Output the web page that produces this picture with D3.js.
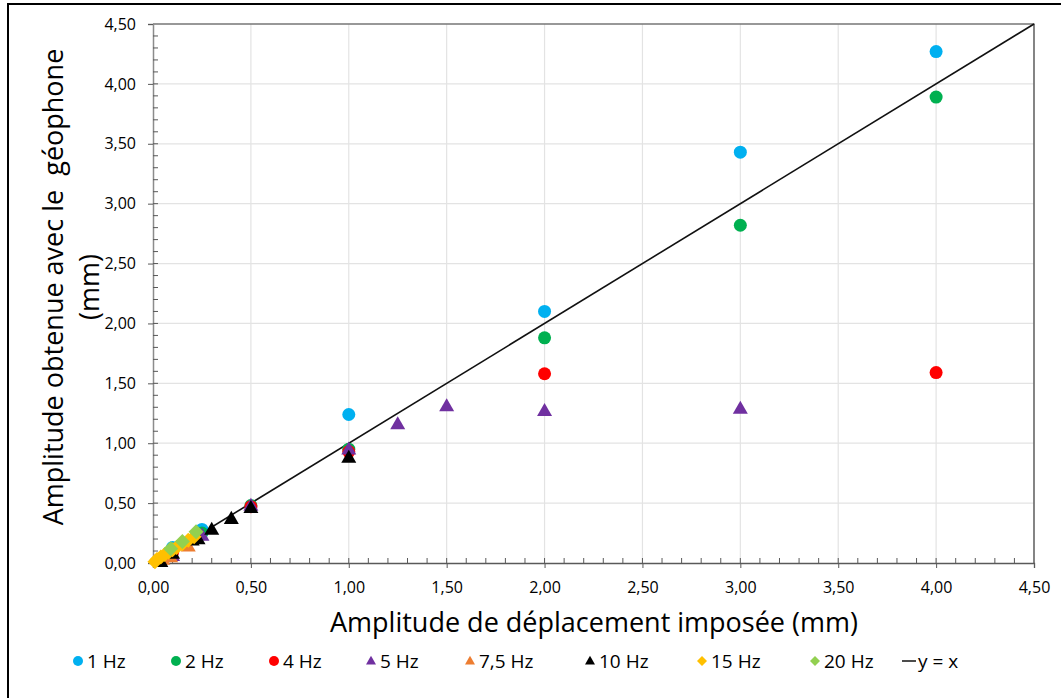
<!DOCTYPE html>
<html>
<head>
<meta charset="utf-8">
<script src="https://cdn.jsdelivr.net/npm/d3@7"></script>
<style>
  body { margin: 0; background: white; }
  text { font-family: "Open Sans", sans-serif; fill: #000; }
</style>
</head>
<body>
<div id="chart"></div>
<script>
// series data: [imposed amplitude, geophone amplitude]
const hz1 = [[0.1, 0.13], [0.25, 0.28], [1, 1.24], [2, 2.1], [3, 3.43], [4, 4.27]];
const hz2 = [[0.1, 0.11], [0.25, 0.25], [0.5, 0.48], [1, 0.95], [2, 1.88], [3, 2.82], [4, 3.89]];
const hz4 = [[0.1, 0.09], [0.5, 0.47], [1, 0.93], [2, 1.58], [4, 1.59]];
const hz5 = [[0.1, 0.06], [0.25, 0.23], [0.5, 0.48], [1, 0.95], [1.25, 1.16], [1.5, 1.31], [2, 1.27], [3, 1.29]];
const hz7_5 = [[0.05, 0.03], [0.09, 0.05], [0.18, 0.14]];
const hz10 = [[0.04, 0.01], [0.1, 0.08], [0.2, 0.19], [0.23, 0.2], [0.3, 0.28], [0.4, 0.37], [0.5, 0.46], [1, 0.88]];
const hz15 = [[0.01, 0.01], [0.02, 0.03], [0.04, 0.05], [0.06, 0.07], [0.08, 0.09], [0.1, 0.11], [0.12, 0.13], [0.15, 0.16], [0.18, 0.19], [0.21, 0.22]];
const hz20 = [[0.09, 0.12], [0.15, 0.18], [0.22, 0.26]];

const seriesNames = ["1 Hz", "2 Hz", "4 Hz", "5 Hz", "7,5 Hz", "10 Hz", "15 Hz", "20 Hz"];
const seriesData = [hz1, hz2, hz4, hz5, hz7_5, hz10, hz15, hz20];
const seriesColors = ["#00B0F0", "#00B050", "#FF0000", "#7030A0", "#ED7D31", "#000000", "#FFC000", "#92D050"];
const seriesShapes = ["circle", "circle", "circle", "triangle", "triangle", "triangle", "diamond", "diamond"];

const majorTicks = [0, 0.5, 1, 1.5, 2, 2.5, 3, 3.5, 4, 4.5];
const minorTicks = d3.range(0, 45).map(function(i) { return i / 10; });

const width = 1061;
const height = 698;
const plot = { left: 153, right: 1034, top: 24, bottom: 563 };

const svg = d3.select("#chart")
    .append("svg")
    .attr("width", width)
    .attr("height", height);

//outer frame
svg.append("rect")
    .attr("x", 8)
    .attr("y", 4)
    .attr("width", 1200)
    .attr("height", 900)
    .attr("fill", "none")
    .attr("stroke", "#000")
    .attr("stroke-width", 2);

const xScale = d3.scaleLinear().domain([0, 4.5]).range([plot.left, plot.right]);
const yScale = d3.scaleLinear().domain([0, 4.5]).range([plot.bottom, plot.top]);

const fmt = function(d) { return d3.format(".2f")(d).replace(".", ","); };

//gridlines
svg.append("g")
    .selectAll("line")
    .data(majorTicks.slice(1))
    .enter()
    .append("line")
    .attr("x1", function(d) { return xScale(d); })
    .attr("x2", function(d) { return xScale(d); })
    .attr("y1", plot.top)
    .attr("y2", plot.bottom)
    .attr("stroke", "#e3e3e3")
    .attr("stroke-width", 1.2);

svg.append("g")
    .selectAll("line")
    .data(majorTicks.slice(1))
    .enter()
    .append("line")
    .attr("x1", plot.left)
    .attr("x2", plot.right)
    .attr("y1", function(d) { return yScale(d); })
    .attr("y2", function(d) { return yScale(d); })
    .attr("stroke", "#e3e3e3")
    .attr("stroke-width", 1.2);

//plot border (top + right)
svg.append("path")
    .attr("d", "M" + plot.left + "," + plot.top + "H" + plot.right + "V" + plot.bottom)
    .attr("fill", "none")
    .attr("stroke", "#404040")
    .attr("stroke-width", 1.2);

//x axis: major ticks outside, minor inside
const xAxis = svg.append("g")
    .attr("transform", "translate(0," + plot.bottom + ")");
xAxis.call(d3.axisBottom(xScale).tickValues(majorTicks).tickFormat(fmt).tickSize(5).tickPadding(14))
    .call(function(g) { g.select(".domain").attr("stroke", "#595959").attr("stroke-width", 1.3); })
    .call(function(g) { g.selectAll(".tick line").attr("stroke", "#595959"); })
    .selectAll("text")
    .style("font-family", "Open Sans, sans-serif")
    .style("font-size", "16px")
    .attr("fill", "#1a1a1a");
xAxis.selectAll(".minor")
    .data(minorTicks)
    .enter()
    .append("line")
    .attr("x1", function(d) { return xScale(d); })
    .attr("x2", function(d) { return xScale(d); })
    .attr("y1", 0)
    .attr("y2", -5)
    .attr("stroke", "#595959");

//y axis
const yAxis = svg.append("g")
    .attr("transform", "translate(" + plot.left + ",0)");
yAxis.call(d3.axisLeft(yScale).tickValues(majorTicks).tickFormat(fmt).tickSize(5).tickPadding(12))
    .call(function(g) { g.select(".domain").attr("stroke", "#8c8c8c").attr("stroke-width", 1.5); })
    .call(function(g) { g.selectAll(".tick line").attr("stroke", "#595959"); })
    .selectAll("text")
    .style("font-family", "Open Sans, sans-serif")
    .style("font-size", "16px")
    .attr("fill", "#1a1a1a");
yAxis.selectAll(".minor")
    .data(minorTicks)
    .enter()
    .append("line")
    .attr("x1", 0)
    .attr("x2", 5)
    .attr("y1", function(d) { return yScale(d); })
    .attr("y2", function(d) { return yScale(d); })
    .attr("stroke", "#595959");

//y = x line
svg.append("line")
    .attr("x1", xScale(0))
    .attr("y1", yScale(0))
    .attr("x2", xScale(4.5))
    .attr("y2", yScale(4.5))
    .attr("stroke", "#111")
    .attr("stroke-width", 1.6);

function shapePath(shape, s) {
    if (shape === "circle") return d3.symbol().type(d3.symbolCircle).size(Math.PI * s * s / 4)();
    if (shape === "triangle") {
        const h = s * 0.87;
        return "M0," + (-h * 0.6) + "L" + (s / 2) + "," + (h * 0.4) + "L" + (-s / 2) + "," + (h * 0.4) + "Z";
    }
    const r = s / 2;
    return "M0," + (-r) + "L" + r + ",0L0," + r + "L" + (-r) + ",0Z";
}

const markerSize = { circle: 13, triangle: 15, diamond: 15 };

//markers
seriesData.forEach(function(data, i) {
    svg.append("g")
        .selectAll("path")
        .data(data)
        .enter()
        .append("path")
        .attr("transform", function(d) { return "translate(" + xScale(d[0]) + "," + yScale(d[1]) + ")"; })
        .attr("d", shapePath(seriesShapes[i], markerSize[seriesShapes[i]]))
        .attr("fill", seriesColors[i]);
});

//axis titles
svg.append("text")
    .attr("x", 594)
    .attr("y", 632)
    .attr("text-anchor", "middle")
    .style("font-size", "27px")
    .text("Amplitude de déplacement imposée (mm)");

const yTitle = svg.append("text")
    .attr("transform", "translate(63,287) rotate(-90)")
    .attr("text-anchor", "middle")
    .style("font-size", "27px");
yTitle.append("tspan").attr("x", 0).attr("y", 0).text("Amplitude obtenue avec le\u00a0\u00a0géophone");
yTitle.append("tspan").attr("x", 0).attr("y", 36).text("(mm)");

//legend
const legendX = [78, 176, 274, 371, 470, 590, 702, 815];
const legendY = 661;
seriesNames.forEach(function(name, i) {
    const g = svg.append("g").attr("transform", "translate(" + legendX[i] + "," + legendY + ")");
    g.append("path")
        .attr("d", shapePath(seriesShapes[i], 10))
        .attr("fill", seriesColors[i]);
    g.append("text")
        .attr("x", 9)
        .attr("y", 7)
        .style("font-size", "19px")
        .text(name);
});
svg.append("line")
    .attr("x1", 902)
    .attr("x2", 916)
    .attr("y1", legendY)
    .attr("y2", legendY)
    .attr("stroke", "#111")
    .attr("stroke-width", 1.5);
svg.append("text")
    .attr("x", 918)
    .attr("y", legendY + 7)
    .style("font-size", "19px")
    .text("y = x");
</script>
</body>
</html>
